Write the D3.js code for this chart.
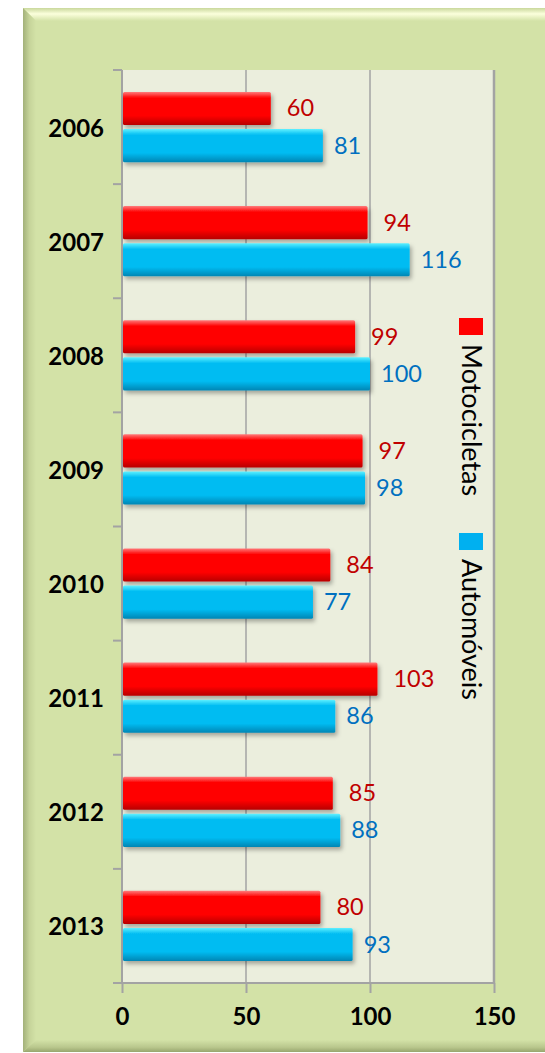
<!DOCTYPE html>
<html>
<head>
<meta charset="utf-8">
<script src="https://cdn.jsdelivr.net/npm/d3@7"></script>
<style>
  html, body { margin: 0; padding: 0; background: #ffffff; }
  svg { display: block; }
  text { font-family: Lato, "Open Sans", sans-serif; }
</style>
</head>
<body>
<div id="chart"></div>
<script>
// data
var years = ["2006", "2007", "2008", "2009", "2010", "2011", "2012", "2013"];
var seriesNames = ["Motocicletas", "Automóveis"];
var motoValues = [60, 99, 94, 97, 84, 103, 85, 80];   // bar lengths
var motoLabels = [60, 94, 99, 97, 84, 103, 85, 80];   // label text as printed
var autoValues = [81, 116, 100, 98, 77, 86, 88, 93];
var autoLabels = [81, 116, 100, 98, 77, 86, 88, 93];
var xTicks = [0, 50, 100, 150];

var width = 545, height = 1053;
var plot = {left: 122, right: 494, top: 70, bottom: 983};

var svg = d3.select("#chart").append("svg")
    .attr("width", width)
    .attr("height", height);

var defs = svg.append("defs");

// bevelled frame gradients
var topBevel = defs.append("linearGradient").attr("id", "topBevel")
    .attr("x1", 0).attr("y1", 0).attr("x2", 0).attr("y2", 1);
topBevel.append("stop").attr("offset", "0%").attr("stop-color", "#c9d89c");
topBevel.append("stop").attr("offset", "45%").attr("stop-color", "#fbffdc");
topBevel.append("stop").attr("offset", "100%").attr("stop-color", "#d3e2a7");

var leftBevel = defs.append("linearGradient").attr("id", "leftBevel")
    .attr("x1", 0).attr("y1", 0).attr("x2", 1).attr("y2", 0);
leftBevel.append("stop").attr("offset", "0%").attr("stop-color", "#a3b17a");
leftBevel.append("stop").attr("offset", "50%").attr("stop-color", "#c6d49a");
leftBevel.append("stop").attr("offset", "100%").attr("stop-color", "#d3e2a7");

var bottomBevel = defs.append("linearGradient").attr("id", "bottomBevel")
    .attr("x1", 0).attr("y1", 0).attr("x2", 0).attr("y2", 1);
bottomBevel.append("stop").attr("offset", "0%").attr("stop-color", "#d3e2a7");
bottomBevel.append("stop").attr("offset", "60%").attr("stop-color", "#b9c78d");
bottomBevel.append("stop").attr("offset", "100%").attr("stop-color", "#98a66e");

// glossy bar fills
function barGradient(id, light, base, dark) {
    var g = defs.append("linearGradient").attr("id", id)
        .attr("x1", 0).attr("y1", 0).attr("x2", 0).attr("y2", 1);
    g.append("stop").attr("offset", "0%").attr("stop-color", light);
    g.append("stop").attr("offset", "18%").attr("stop-color", base);
    g.append("stop").attr("offset", "72%").attr("stop-color", base);
    g.append("stop").attr("offset", "100%").attr("stop-color", dark);
}
barGradient("gradMoto", "#ff7a7a", "#ff0000", "#b80000");
barGradient("gradAuto", "#5ef0ff", "#00bcf2", "#0086b4");

var shadow = defs.append("filter").attr("id", "shadow")
    .attr("x", "-5%").attr("y", "-20%").attr("width", "115%").attr("height", "160%");
shadow.append("feDropShadow").attr("dx", 2).attr("dy", 3)
    .attr("stdDeviation", 2).attr("flood-color", "#000").attr("flood-opacity", 0.3);

// outer frame
var fx = 23, fy = 8, fw = 540, fh = 1044;
svg.append("rect").attr("x", fx).attr("y", fy).attr("width", fw).attr("height", fh)
    .attr("fill", "#d3e2a7");
svg.append("path")
    .attr("d", "M" + fx + "," + fy + "H" + (fx + fw) + "V" + (fy + 13) + "H" + (fx + 13) + "Z")
    .attr("fill", "url(#topBevel)");
svg.append("path")
    .attr("d", "M" + fx + "," + fy + "L" + (fx + 13) + "," + (fy + 13) + "V" + (fy + fh - 12) +
          "L" + fx + "," + (fy + fh) + "Z")
    .attr("fill", "url(#leftBevel)");
svg.append("path")
    .attr("d", "M" + fx + "," + (fy + fh) + "L" + (fx + 13) + "," + (fy + fh - 12) +
          "H" + (fx + fw) + "V" + (fy + fh) + "Z")
    .attr("fill", "url(#bottomBevel)");

// plot area
svg.append("rect")
    .attr("x", plot.left).attr("y", plot.top)
    .attr("width", plot.right - plot.left).attr("height", plot.bottom - plot.top)
    .attr("fill", "#ebeedd");

var x = d3.scaleLinear().domain([0, 150]).range([plot.left, plot.right]);
var y = d3.scaleBand().domain(years).range([plot.top, plot.bottom])
    .paddingInner(0.385).paddingOuter(0.1925);
var ySub = d3.scaleBand().domain(seriesNames).range([0, y.bandwidth()]).paddingInner(0.11);

// vertical gridlines
svg.append("g").selectAll("line")
    .data(xTicks.filter(function(d) { return d > 0; }))
    .enter().append("line")
    .attr("x1", function(d) { return x(d); })
    .attr("x2", function(d) { return x(d); })
    .attr("y1", plot.top).attr("y2", plot.bottom)
    .attr("stroke", "#a3a3a3")
    .attr("stroke-width", function(d) { return d == 150 ? 2.5 : 1.5; });

// x axis
var xAxis = svg.append("g")
    .attr("transform", "translate(0," + plot.bottom + ")")
    .call(d3.axisBottom(x).tickValues(xTicks).tickSize(10).tickPadding(15));
xAxis.select(".domain").remove();
xAxis.selectAll(".tick line").attr("stroke", "#a3a3a3").attr("stroke-width", 2);
xAxis.selectAll(".tick text")
    .attr("fill", "#000").attr("font-size", "24px").attr("font-weight", "bold")
    .attr("font-family", "Lato, 'Open Sans', sans-serif");
svg.append("line")
    .attr("x1", plot.left - 9).attr("x2", plot.right)
    .attr("y1", plot.bottom).attr("y2", plot.bottom)
    .attr("stroke", "#a3a3a3").attr("stroke-width", 2);

// y axis with ticks between categories
svg.append("line")
    .attr("x1", plot.left).attr("x2", plot.left)
    .attr("y1", plot.top).attr("y2", plot.bottom)
    .attr("stroke", "#a3a3a3").attr("stroke-width", 2);
var step = y.step();
svg.append("g").selectAll("line")
    .data(years)
    .enter().append("line")
    .attr("x1", plot.left - 9).attr("x2", plot.left)
    .attr("y1", function(d) { return y(d) - step * 0.1925; })
    .attr("y2", function(d) { return y(d) - step * 0.1925; })
    .attr("stroke", "#a3a3a3").attr("stroke-width", 2);

svg.append("g").selectAll("text")
    .data(years)
    .enter().append("text")
    .attr("x", plot.left - 18)
    .attr("y", function(d) { return y(d) + y.bandwidth() / 2; })
    .attr("text-anchor", "end")
    .attr("dominant-baseline", "central")
    .attr("font-size", "24px")
    .attr("font-weight", "bold")
    .attr("fill", "#000")
    .text(function(d) { return d; });

// bars
var rows = years.map(function(yr, i) {
    return [
        {year: yr, series: seriesNames[0], value: motoValues[i], label: motoLabels[i]},
        {year: yr, series: seriesNames[1], value: autoValues[i], label: autoLabels[i]}
    ];
});
var flat = [].concat.apply([], rows);

svg.append("g").selectAll("rect")
    .data(flat)
    .enter().append("rect")
    .attr("x", x(0) + 1)
    .attr("y", function(d) { return y(d.year) + ySub(d.series); })
    .attr("width", function(d) { return x(d.value) - x(0) - 1; })
    .attr("height", ySub.bandwidth())
    .attr("rx", 1.5)
    .attr("fill", function(d) { return d.series == seriesNames[0] ? "url(#gradMoto)" : "url(#gradAuto)"; })
    .attr("filter", "url(#shadow)");

// value labels
svg.append("g").selectAll("text")
    .data(flat)
    .enter().append("text")
    .attr("x", function(d) { return x(d.value) + (d.series == seriesNames[0] ? 16 : 11); })
    .attr("y", function(d) { return y(d.year) + ySub(d.series) + ySub.bandwidth() / 2 - 1; })
    .attr("dominant-baseline", "central")
    .attr("font-size", "23.5px")
    .attr("fill", function(d) { return d.series == seriesNames[0] ? "#c00000" : "#0070c0"; })
    .text(function(d) { return d.label; });

// legend, written vertically inside the plot area
var legendColors = ["#ff0000", "#00b0f0"];
var legendTop = [318, 533];
var legend = svg.append("g").selectAll("g")
    .data(seriesNames)
    .enter().append("g")
    .attr("transform", function(d, i) { return "translate(471," + legendTop[i] + ")"; });
legend.append("rect")
    .attr("x", -12).attr("y", 0).attr("width", 24).attr("height", 17)
    .attr("fill", function(d, i) { return legendColors[i]; });
legend.append("text")
    .attr("transform", "translate(1,26) rotate(90)")
    .attr("dominant-baseline", "central")
    .attr("font-size", "27px")
    .attr("fill", "#000")
    .text(function(d) { return d; });
</script>
</body>
</html>
